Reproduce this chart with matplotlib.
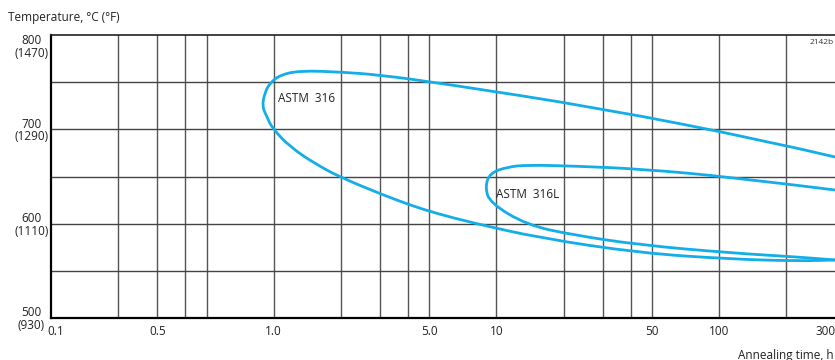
import matplotlib
matplotlib.use("Agg")
import matplotlib.pyplot as plt
import matplotlib.transforms as mtransforms
from matplotlib.path import Path
from matplotlib.patches import PathPatch
import numpy as np

plt.rcParams['font.family'] = ['Open Sans', 'DejaVu Sans']

# C-curve for ASTM 316 (annealing time h, temperature C)
t316 = [331, 157, 29.2, 5.58, 3.0, 1.99, 1.31, 1.067, 0.962, 0.914, 0.886, 0.933, 0.983,
        1.184, 1.565, 2.026, 3.10, 4.22, 5.30, 7.85, 15.7, 44.2, 112, 224, 331]
T316 = [670.7, 688.7, 722.6, 749, 757.6, 760.8, 762.2, 757.6, 749, 739.6, 724.5, 713.1, 701.4,
        681.3, 662.2, 648.4, 630.4, 618.7, 611.3, 600.7, 584.8, 568.9, 562.5, 560.4, 561.5]

# C-curve for ASTM 316L
t316L = [331, 112, 44.2, 22.1, 13.7, 11.2, 9.35, 8.89, 9.35, 13.7, 22.1, 44.2, 112, 224, 331]
T316L = [635.7, 649.5, 658, 661.1, 662.2, 660.1, 653.7, 638.9, 622, 598.6, 588, 577.4,
         569, 564.7, 561.5]

xgrid = [0.2, 0.3, 0.4, 0.5, 1, 2, 3, 4, 5, 10, 20, 30, 40, 50, 100, 200]
ygrid = [550, 600, 650, 700, 750]
xticks = [0.1, 0.3, 1, 5, 10, 50, 100, 300]
xlabels = ["0.1", "0.5", "1.0", "5.0", "10", "50", "100", "300"]
yticks = [500, 600, 700, 800]
ylabels = ["500\n(930)", "600\n(1110)", "700\n(1290)", "800\n(1470)"]


def smooth_curve(xs, ys):
    # quadratic bezier through midpoints (log x), the read points act as controls
    lx = np.log10(xs)
    verts = [(xs[0], ys[0])]
    codes = [Path.MOVETO]
    for i in range(1, len(xs) - 1):
        mx = 10 ** ((lx[i] + lx[i + 1]) / 2)
        my = (ys[i] + ys[i + 1]) / 2
        verts += [(xs[i], ys[i]), (mx, my)]
        codes += [Path.CURVE3, Path.CURVE3]
    verts.append((xs[-1], ys[-1]))
    codes.append(Path.LINETO)
    return Path(verts, codes)


fig = plt.figure(figsize=(8.35, 3.6), dpi=100)
ax = fig.add_axes([51/835, 1-318/360, 1-51/835, (318-35)/360])
ax.set_xscale('log')
ax.set_xlim(0.1, 331)
ax.set_ylim(500, 800)

for x in xgrid:
    ax.axvline(x, color='#555555', lw=1.0, zorder=1)
for y in ygrid:
    ax.axhline(y, color='#444444', lw=1.0, zorder=1)

blue = '#13aee8'
for xs, ys in [(t316, T316), (t316L, T316L)]:
    ax.add_patch(PathPatch(smooth_curve(xs, ys), facecolor='none', edgecolor=blue,
                           lw=2.0, zorder=3, capstyle='round'))

ax.text(1.045, 733, "ASTM  316", fontsize=8.5, va='center', ha='left', color='#222222')
ax.text(9.96, 630.4, "ASTM  316L", fontsize=8.5, va='center', ha='left', color='#222222')

ax.set_xticks(xticks)
ax.set_xticklabels(xlabels)
ax.minorticks_off()
ax.set_yticks(yticks)
ax.set_yticklabels(ylabels, ha='center', linespacing=0.95)
ax.tick_params(axis='both', length=0, labelsize=8.5, colors='#222222')
ax.tick_params(axis='y', pad=14)
ax.tick_params(axis='x', pad=5)

# top label sits below the top line, first x label a bit to the right
lab800 = ax.get_yticklabels()[-1]
lab800.set_transform(lab800.get_transform() + mtransforms.ScaledTranslation(0, -11/100, fig.dpi_scale_trans))
lab01 = ax.get_xticklabels()[0]
lab01.set_transform(lab01.get_transform() + mtransforms.ScaledTranslation(5/100, 0, fig.dpi_scale_trans))

ax.spines['right'].set_visible(False)
ax.spines['left'].set_linewidth(1.6)
ax.spines['bottom'].set_linewidth(1.6)
ax.spines['top'].set_linewidth(1.2)
ax.spines['top'].set_color('#222222')

fig.text(8/835, 1-17/360, "Temperature, °C (°F)", fontsize=8.5, va='center', ha='left', color='#222222')
fig.text(834/835, 1-355/360, "Annealing time, h", fontsize=8.5, va='center', ha='right', color='#222222')
fig.text(834/835, 1-43/360, "2142b", fontsize=6, va='center', ha='right', color='#333333')

fig.savefig("out.png", dpi=100)
